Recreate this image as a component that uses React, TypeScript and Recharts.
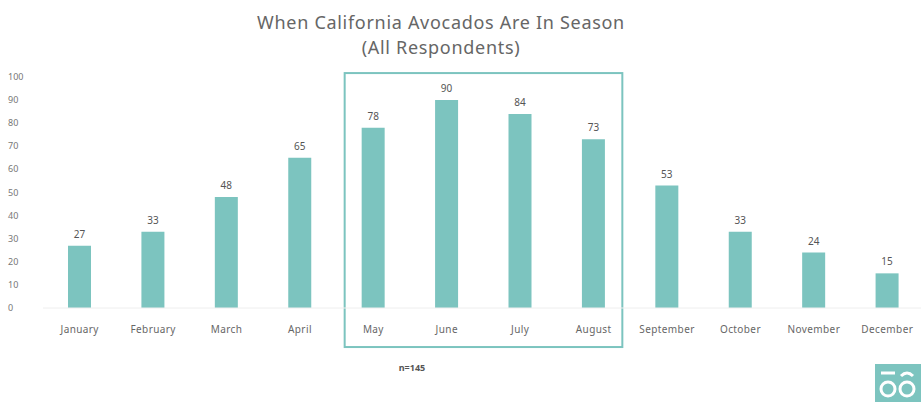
import * as React from "react"
import { BarChart, Bar, XAxis, YAxis, LabelList, ReferenceArea } from "recharts"

const months = [
  "January", "February", "March", "April", "May", "June",
  "July", "August", "September", "October", "November", "December",
]
const inSeason = [27, 33, 48, 65, 78, 90, 84, 73, 53, 33, 24, 15]
const yTicks = [0, 10, 20, 30, 40, 50, 60, 70, 80, 90, 100]
const peakStart = "May"
const peakEnd = "August"

const TEAL = "#7cc4bf"
const FONT = "'Noto Sans', 'DejaVu Sans', sans-serif"

const chartData = months.map((m, i) => ({ month: m, value: inSeason[i] }))

// etiquetas del eje Y alineadas a la izquierda
function LeftTick(props: any) {
  const { y, payload } = props
  return (
    <text x={8} y={y} dy={3} textAnchor="start" fontSize={9} fill="#777" fontFamily={FONT}>
      {payload.value}
    </text>
  )
}

// el recuadro de temporada alta queda un poco hacia dentro de las bandas
function SeasonBox(props: any) {
  const { x, y, width, height } = props
  return (
    <rect
      x={x + 8}
      y={y}
      width={width - 16}
      height={height}
      fill="none"
      stroke={TEAL}
      strokeWidth={2}
    />
  )
}

export default function App() {
  return (
    <div
      style={{
        position: "absolute",
        left: 0,
        top: 0,
        width: 921,
        height: 402,
        overflow: "hidden",
        background: "#fff",
        fontFamily: FONT,
      }}
    >
      <div
        style={{
          position: "absolute",
          top: 10,
          left: 0,
          width: 882,
          textAlign: "center",
          color: "#666",
          fontSize: 18,
          letterSpacing: 0.7,
          lineHeight: "25px",
        }}
      >
        When California Avocados Are In Season
        <br />
        (All Respondents)
      </div>

      <BarChart
        width={925}
        height={402}
        data={chartData}
        margin={{ top: 77, right: 1, bottom: 64, left: 0 }}
        style={{ position: "absolute", left: 0, top: 0 }}
      >
        <YAxis
          domain={[0, 100]}
          ticks={yTicks}
          width={43}
          axisLine={false}
          tickLine={false}
          tick={<LeftTick />}
        />
        <XAxis
          dataKey="month"
          height={30}
          interval={0}
          tickLine={false}
          axisLine={{ stroke: "#eeeeee" }}
          tickMargin={12}
          tick={{ fontSize: 10, fill: "#666", fontFamily: FONT, letterSpacing: 0.4 }}
        />
        <ReferenceArea
          x1={peakStart}
          x2={peakEnd}
          y1={-16.9}
          y2={101.7}
          ifOverflow="visible"
          shape={<SeasonBox />}
        />
        <Bar dataKey="value" fill={TEAL} barSize={23} isAnimationActive={false}>
          <LabelList
            dataKey="value"
            position="top"
            offset={8}
            fontSize={10}
            fill="#555"
            fontFamily={FONT}
          />
        </Bar>
      </BarChart>

      <div
        style={{
          position: "absolute",
          top: 361,
          left: 392,
          width: 40,
          textAlign: "center",
          fontSize: 9,
          fontWeight: 700,
          color: "#555",
        }}
      >
        n=145
      </div>

      <svg
        width={47}
        height={38}
        style={{ position: "absolute", left: 875, top: 364 }}
      >
        <rect x={0} y={0} width={47} height={38} fill={TEAL} />
        <line x1={6} y1={9} x2={20} y2={9} stroke="#fff" strokeWidth={3} />
        <circle cx={13} cy={25} r={7} fill="none" stroke="#fff" strokeWidth={3} />
        <circle cx={32} cy={25} r={7} fill="none" stroke="#fff" strokeWidth={3} />
        <path d="M26 12 Q32 6 38 12" fill="none" stroke="#fff" strokeWidth={3} />
      </svg>
    </div>
  )
}
